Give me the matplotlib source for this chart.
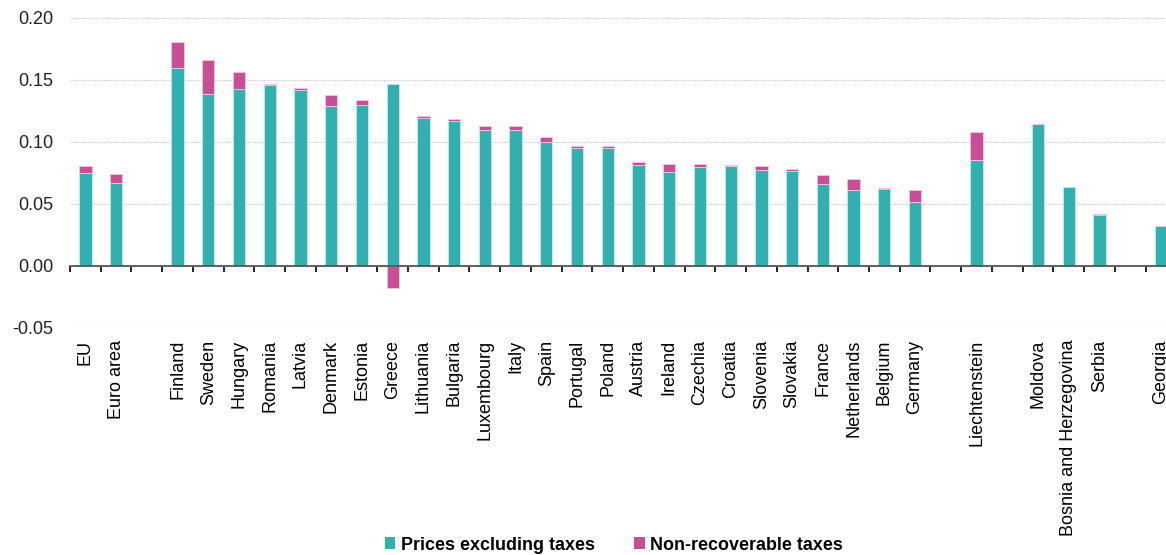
import matplotlib
matplotlib.use('Agg')
import matplotlib.pyplot as plt
from matplotlib.patches import Patch
from matplotlib.ticker import FixedLocator, MultipleLocator
import numpy as np

plt.rcParams['font.family'] = ['Liberation Sans', 'DejaVu Sans']

# empty strings are the gaps between country groups
categories = ['EU', 'Euro area', '',
              'Finland', 'Sweden', 'Hungary', 'Romania', 'Latvia', 'Denmark', 'Estonia',
              'Greece', 'Lithuania', 'Bulgaria', 'Luxembourg', 'Italy', 'Spain', 'Portugal',
              'Poland', 'Austria', 'Ireland', 'Czechia', 'Croatia', 'Slovenia', 'Slovakia',
              'France', 'Netherlands', 'Belgium', 'Germany', '',
              'Liechtenstein', '',
              'Moldova', 'Bosnia and Herzegovina', 'Serbia', '',
              'Georgia']

prices_excl_taxes = [0.075, 0.067, np.nan,
                     0.160, 0.1385, 0.143, 0.146, 0.142, 0.129, 0.130,
                     0.147, 0.119, 0.117, 0.110, 0.1097, 0.100, 0.0954,
                     0.0954, 0.0815, 0.076, 0.080, 0.0804, 0.0777, 0.0763,
                     0.0664, 0.0613, 0.062, 0.052, np.nan,
                     0.0857, np.nan,
                     0.1145, 0.0634, 0.041, np.nan,
                     0.032]

non_recoverable_taxes = [0.006, 0.007, np.nan,
                         0.021, 0.0274, 0.0135, 0.001, 0.0015, 0.0085, 0.004,
                         -0.0175, 0.002, 0.0013, 0.003, 0.003, 0.0043, 0.0016,
                         0.001, 0.0024, 0.006, 0.002, 0.0013, 0.003, 0.0016,
                         0.007, 0.0089, 0.0013, 0.0094, np.nan,
                         0.0226, np.nan,
                         0.0, 0.0, 0.0008, np.nan,
                         0.0]

teal = '#32b0af'
pink = '#c84e96'

x = np.arange(len(categories))
base = np.array(prices_excl_taxes)
tax = np.array(non_recoverable_taxes)
bottom_tax = np.where(tax >= 0, base, 0)

fig = plt.figure(figsize=(11.66, 5.55), dpi=100)
ax = fig.add_axes([70/1166, 1-328/555, 1-70/1166, (328-18)/555])

ax.bar(x, base, width=0.4, color=teal, edgecolor='#c8ecec', linewidth=0.6, zorder=3)
ax.bar(x, tax, width=0.4, bottom=bottom_tax, color=pink, edgecolor='#f0c8e0', linewidth=0.6, zorder=3)

# axis runs past the right edge, Georgia is clipped like in the source
ax.set_xlim(-0.5, -0.5 + (1166 - 70) / 30.73)
ax.set_ylim(-0.05, 0.20)
ax.yaxis.set_major_locator(MultipleLocator(0.05))
ax.yaxis.set_major_formatter(matplotlib.ticker.FuncFormatter(lambda v, p: f'{v:.2f}'))
ax.grid(axis='y', linestyle=(0, (1, 1)), color='#c8c8c8', linewidth=0.8, zorder=0)

for s in ['top', 'right', 'left']:
    ax.spines[s].set_visible(False)
ax.spines['bottom'].set_position(('data', 0))
ax.spines['bottom'].set_color('#555555')
ax.spines['bottom'].set_linewidth(1.3)
ax.spines['bottom'].set_zorder(4)

ax.set_xticks(x)
ax.set_xticklabels(categories, rotation=90, fontsize=13, va='top', ha='center')
ax.xaxis.set_minor_locator(FixedLocator(np.arange(len(categories) + 1) - 0.5))
ax.tick_params(axis='x', which='major', length=0, pad=53)
ax.tick_params(axis='x', which='minor', length=4, width=1.2, color='black', direction='out')
ax.tick_params(axis='y', length=0, pad=12, labelsize=13, labelcolor='#222222')

handles = [Patch(facecolor=teal, label='Prices excluding taxes'),
           Patch(facecolor=pink, label='Non-recoverable taxes')]
fig.legend(handles=handles, loc='center', bbox_to_anchor=(614/1166, 1-545/555), ncol=2,
           frameon=False, prop={'weight': 'bold', 'size': 12.9},
           handlelength=0.6, handleheight=0.6, handletextpad=0.3, columnspacing=2.2)

fig.savefig('out.png', dpi=100)
